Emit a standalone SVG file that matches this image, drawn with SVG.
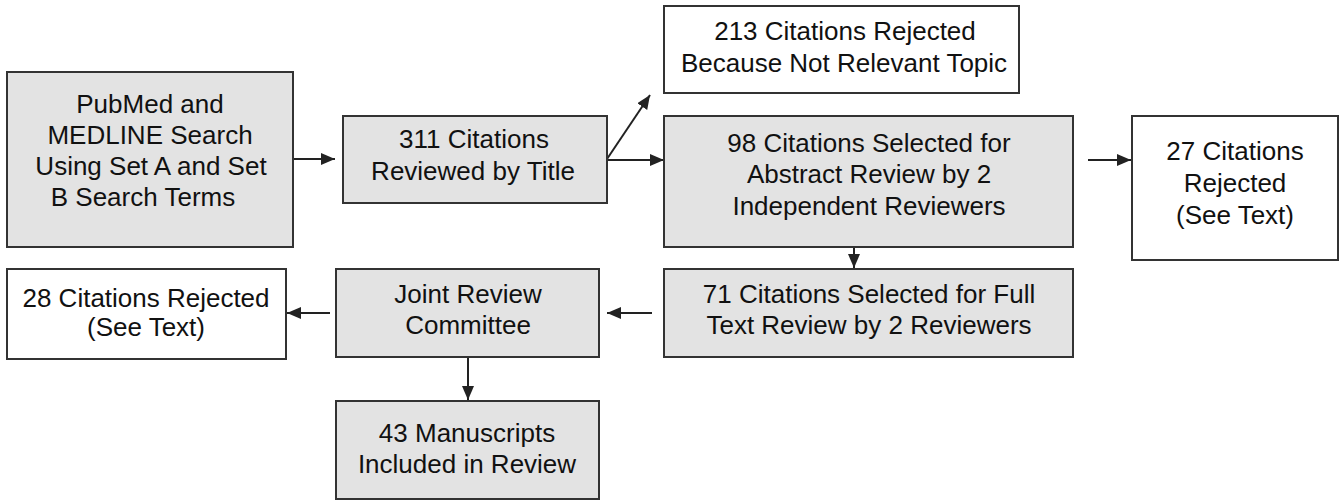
<svg xmlns="http://www.w3.org/2000/svg" width="1342" height="500" viewBox="0 0 1342 500">
<style>
.box{stroke:#333;stroke-width:2;}
.g{fill:#e3e3e3;}
.w{fill:#fff;}
text{font-family:"Liberation Sans",Arial,sans-serif;font-size:26px;fill:#111;text-anchor:middle;}
.c{stroke:#222;stroke-width:2;fill:none;marker-end:url(#ah);}
</style>
<defs>
<marker id="ah" markerUnits="userSpaceOnUse" markerWidth="16" markerHeight="14" refX="14" refY="6" orient="auto">
<path d="M0,0 L14,6 L0,12 Z" fill="#222"/>
</marker>
</defs>
<rect width="1342" height="500" fill="#fff"/>
<g id="connectors">
<line class="c" x1="293" y1="159" x2="335" y2="159"/>
<line class="c" x1="607" y1="159" x2="650" y2="95"/>
<line class="c" x1="607" y1="160" x2="664" y2="160"/>
<line class="c" x1="1088" y1="160" x2="1131" y2="160"/>
<line class="c" x1="854" y1="247" x2="854" y2="268"/>
<line class="c" x1="652" y1="313" x2="607" y2="313"/>
<line class="c" x1="330" y1="313" x2="287" y2="313"/>
<line class="c" x1="468" y1="357" x2="468" y2="400"/>
</g>
<g id="n1">
<rect class="box g" x="7" y="72" width="286" height="175"/>
<text x="150" y="113">PubMed and</text>
<text x="150" y="144">MEDLINE Search</text>
<text x="151" y="175">Using Set A and Set</text>
<text x="143" y="206">B Search Terms</text>
</g>
<g id="n2">
<rect class="box g" x="343" y="116" width="264" height="87"/>
<text x="474" y="148">311 Citations</text>
<text x="473" y="180">Reviewed by Title</text>
</g>
<g id="n3">
<rect class="box w" x="664" y="6" width="355" height="87"/>
<text x="845" y="40">213 Citations Rejected</text>
<text x="844" y="72">Because Not Relevant Topic</text>
</g>
<g id="n4">
<rect class="box g" x="664" y="116" width="409" height="131"/>
<text x="869" y="152">98 Citations Selected for</text>
<text x="869" y="183">Abstract Review by 2</text>
<text x="869" y="215">Independent Reviewers</text>
</g>
<g id="n5">
<rect class="box w" x="1132" y="116" width="206" height="144"/>
<text x="1235" y="160">27 Citations</text>
<text x="1235" y="192">Rejected</text>
<text x="1235" y="224">(See Text)</text>
</g>
<g id="n6">
<rect class="box g" x="664" y="269" width="409" height="88"/>
<text x="869" y="303">71 Citations Selected for Full</text>
<text x="869" y="334">Text Review by 2 Reviewers</text>
</g>
<g id="n7">
<rect class="box g" x="336" y="269" width="263" height="88"/>
<text x="468" y="303">Joint Review</text>
<text x="468" y="334">Committee</text>
</g>
<g id="n8">
<rect class="box w" x="7" y="269" width="279" height="90"/>
<text x="146" y="307" textLength="247" lengthAdjust="spacingAndGlyphs">28 Citations Rejected</text>
<text x="146" y="336">(See Text)</text>
</g>
<g id="n9">
<rect class="box g" x="336" y="401" width="263" height="98"/>
<text x="467" y="442">43 Manuscripts</text>
<text x="467" y="473">Included in Review</text>
</g>
</svg>
